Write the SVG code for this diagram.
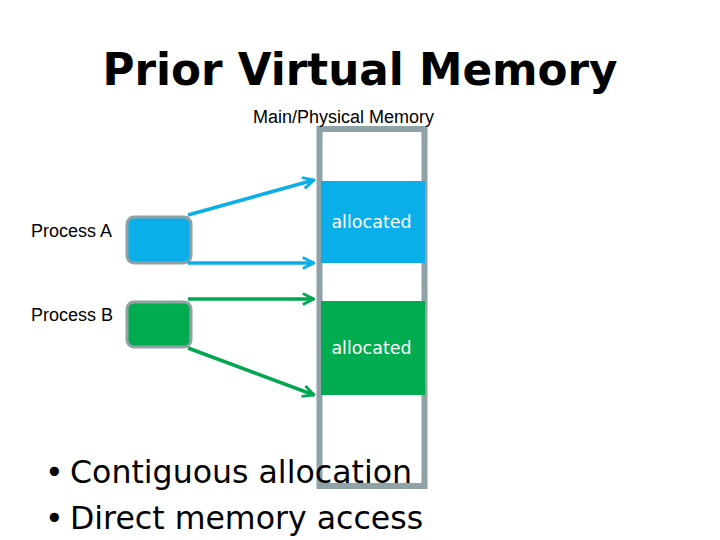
<svg xmlns="http://www.w3.org/2000/svg" width="720" height="540" viewBox="0 0 720 540">
<style>
.lbl{font-family:"Liberation Sans",Arial,sans-serif;font-size:18px;fill:#000}
.alloc{font-family:"DejaVu Sans",Verdana,sans-serif;font-size:17.5px;fill:#fff}
.bul{font-family:"DejaVu Sans",Verdana,sans-serif;font-size:31.6px;fill:#000}
.proc{stroke:#8fa3a6;stroke-width:3}
.ab{stroke:#0aaee8;stroke-width:3.5;fill:none}
.ag{stroke:#00a650;stroke-width:3.5;fill:none}
</style>
<defs>
<marker id="mb" viewBox="0 0 10 10" refX="9" refY="5" markerWidth="4" markerHeight="4" orient="auto" markerUnits="strokeWidth">
<path d="M1,1 L9,5 L1,9" fill="none" stroke="#0aaee8" stroke-width="2"/>
</marker>
<marker id="mg" viewBox="0 0 10 10" refX="9" refY="5" markerWidth="4" markerHeight="4" orient="auto" markerUnits="strokeWidth">
<path d="M1,1 L9,5 L1,9" fill="none" stroke="#00a650" stroke-width="2"/>
</marker>
</defs>
<rect width="720" height="540" fill="#fff"/>
<text x="360" y="85" text-anchor="middle" font-family="'DejaVu Sans',Verdana,sans-serif" font-weight="bold" font-size="43.7">Prior Virtual Memory</text>
<g id="memory">
<rect x="319.5" y="129" width="105" height="357" fill="#fff" stroke="#8fa3a6" stroke-width="6"/>
<text class="lbl" x="343.5" y="123" text-anchor="middle">Main/Physical Memory</text>
</g>
<g id="allocA">
<rect x="321" y="181" width="104" height="82" fill="#0aaee8"/>
<text class="alloc" x="371.5" y="228" text-anchor="middle">allocated</text>
</g>
<g id="allocB">
<rect x="321" y="301" width="104" height="94" fill="#00ac4f"/>
<text class="alloc" x="371.5" y="354" text-anchor="middle">allocated</text>
</g>
<g id="processA">
<rect class="proc" x="127" y="217" width="64" height="46" rx="7" fill="#0aaee8"/>
<text class="lbl" x="31" y="237">Process A</text>
</g>
<g id="processB">
<rect class="proc" x="127" y="302" width="64" height="45" rx="7" fill="#00ac4f"/>
<text class="lbl" x="31" y="321">Process B</text>
</g>
<g id="connectors">
<line class="ab" x1="188" y1="215" x2="314" y2="180" marker-end="url(#mb)"/>
<line class="ab" x1="188" y1="263" x2="314" y2="263" marker-end="url(#mb)"/>
<line class="ag" x1="188" y1="299" x2="314" y2="299" marker-end="url(#mg)"/>
<line class="ag" x1="188" y1="348" x2="314" y2="395" marker-end="url(#mg)"/>
</g>
<g id="bullets">
<text class="bul" y="483"><tspan x="45">•</tspan><tspan x="70">Contiguous allocation</tspan></text>
<text class="bul" y="529"><tspan x="45">•</tspan><tspan x="70">Direct memory access</tspan></text>
</g>
</svg>
